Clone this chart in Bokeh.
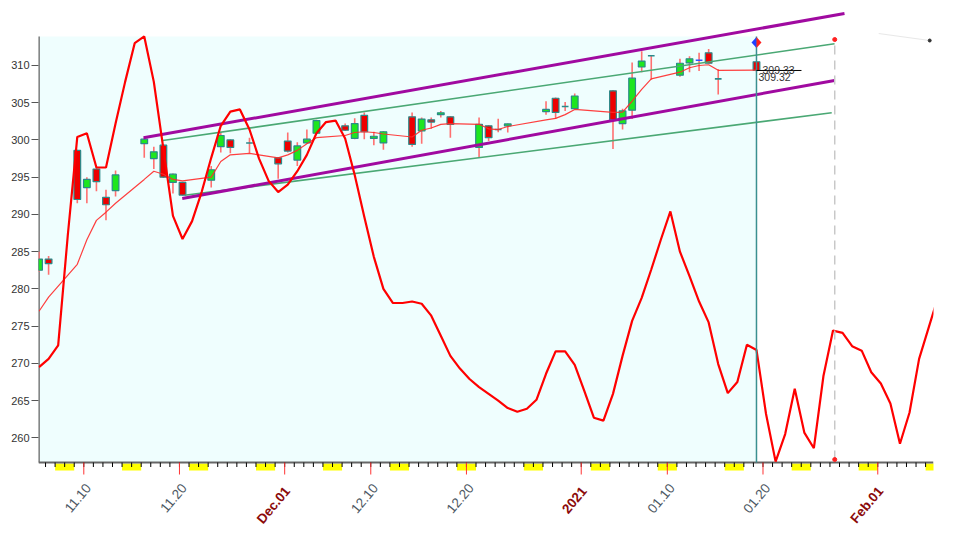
import numpy as np
import pandas as pd
from bokeh.plotting import figure
from bokeh.models import Range1d, FixedTicker, ColumnDataSource
from bokeh.core.properties import value
from bokeh.embed import file_html
from bokeh.resources import INLINE

# ---------------- data ----------------
dates = ["2020-11-05", "2020-11-06", "2020-11-09", "2020-11-10", "2020-11-11", "2020-11-12",
         "2020-11-13", "2020-11-16", "2020-11-17", "2020-11-18", "2020-11-19", "2020-11-20",
         "2020-11-23", "2020-11-24", "2020-11-25", "2020-11-27", "2020-11-30", "2020-12-01",
         "2020-12-02", "2020-12-03", "2020-12-04", "2020-12-07", "2020-12-08", "2020-12-09",
         "2020-12-10", "2020-12-11", "2020-12-14", "2020-12-15", "2020-12-16", "2020-12-17",
         "2020-12-18", "2020-12-21", "2020-12-22", "2020-12-23", "2020-12-24", "2020-12-28",
         "2020-12-29", "2020-12-30", "2020-12-31", "2021-01-04", "2021-01-05", "2021-01-06",
         "2021-01-07", "2021-01-08", "2021-01-11", "2021-01-12", "2021-01-13", "2021-01-14",
         "2021-01-15", "2021-01-19"]
opens = [282.5, 284.0, 298.6, 293.6, 296.1, 292.3, 293.2, 299.5, 297.5, 299.3, 294.3, 294.3,
         294.6, 299.1, 300.0, 299.6, 297.6, 299.85, 297.3, 299.6, 300.9, 301.9, 300.2, 303.3,
         300.2, 299.6, 303.1, 301.2, 302.7, 303.4, 303.1, 299.0, 301.9, 301.4, 301.9, 303.8,
         305.6, 304.5, 304.2, 306.6, 302.2, 304.0, 309.8, 311.3, 308.7, 310.35, 310.7, 311.7,
         308.2, 310.5]
highs = [285.0, 284.4, 298.7, 295.0, 296.4, 293.3, 295.9, 300.2, 299.1, 299.4, 295.5, 294.4,
         296.5, 301.1, 300.1, 300.3, 297.7, 301.0, 299.7, 301.4, 302.7, 302.2, 302.9, 303.7,
         301.1, 301.2, 303.7, 303.0, 303.0, 303.9, 303.2, 303.0, 302.0, 302.85, 302.2, 305.2,
         305.7, 305.1, 306.25, 306.7, 304.2, 310.4, 311.9, 311.4, 310.9, 311.25, 311.7, 312.2,
         309.5, 310.5]
lows = [282.3, 281.9, 291.5, 291.5, 293.1, 289.2, 292.4, 297.6, 296.1, 294.9, 292.8, 292.5,
        293.6, 298.3, 298.2, 298.2, 294.8, 298.3, 296.5, 299.5, 300.8, 301.2, 300.1, 300.1,
        299.3, 298.7, 299.1, 299.5, 301.5, 303.0, 300.3, 297.6, 299.85, 301.05, 301.0, 303.4,
        302.8, 303.9, 304.2, 298.8, 301.4, 302.8, 309.1, 308.1, 308.5, 309.1, 309.25, 310.3,
        306.1, 309.2]
closes = [284.0, 283.4, 292.0, 294.7, 294.4, 291.3, 295.3, 300.1, 298.4, 295.0, 295.4, 292.6,
          296.0, 300.6, 299.0, 299.6, 296.8, 298.5, 299.2, 300.1, 302.6, 301.3, 302.2, 301.1,
          300.5, 301.1, 299.4, 302.8, 302.4, 303.65, 302.1, 302.1, 300.3, 301.4, 302.15, 304.1,
          303.7, 304.5, 305.9, 302.7, 303.9, 308.3, 310.6, 311.3, 310.3, 310.9, 310.7, 310.3,
          308.2, 309.33]
ma_values = [277.0, 278.9, 283.3, 286.6, 289.2, 290.3, 291.5, 294.7, 295.8, 295.4, 294.7, 294.5,
             295.0, 297.1, 298.0, 298.2, 297.6, 298.0, 298.6, 299.5, 300.3, 300.6, 301.0, 301.1,
             301.0, 300.8, 300.4, 301.3, 301.6, 302.1, 302.2, 302.1, 301.5, 301.4, 301.8, 302.7,
             302.9, 303.4, 304.1, 303.7, 303.75, 305.2, 306.8, 308.2, 309.1, 309.7, 310.0, 310.1,
             309.35, 309.37]

# thick indicator line, one value per calendar day from osc_start
osc_start = "2020-11-05"
osc_values = [269.5, 270.6, 272.4, 287.1, 300.4, 300.9, 296.3, 296.3, 302.2, 307.8,
              313.0, 313.9, 307.8, 298.8, 289.8, 286.7, 289.1, 293.0, 297.6, 301.9,
              303.8, 304.1, 301.4, 297.5, 294.5, 293.0, 294.0, 295.8, 298.0, 300.9,
              302.4, 302.6, 300.2, 295.3, 289.7, 284.3, 280.0, 278.1, 278.1, 278.3,
              278.0, 276.4, 273.7, 271.0, 269.3, 267.9, 266.8, 265.9, 265.0, 264.0,
              263.5, 263.9, 265.1, 268.6, 271.6, 271.6, 269.8, 266.3, 262.7, 262.3,
              265.9, 271.0, 275.7, 278.8, 282.6, 286.6, 290.4, 285.0, 281.7, 278.3,
              275.5, 269.9, 266.0, 267.5, 272.5, 271.8, 263.2, 256.8, 260.5, 266.6,
              260.7, 258.6, 268.3, 274.4, 274.1, 272.3, 271.7, 268.8, 267.3, 264.6,
              259.2, 263.4, 270.6, 274.8, 279.0]

# trend channels (start/end date, start/end value)
purple_upper_dates = ["2020-11-16 05:45", "2021-01-28 12:30"]
purple_upper_vals = [300.29, 316.98]
purple_lower_dates = ["2020-11-20 07:00", "2021-01-27 11:30"]
purple_lower_vals = [292.14, 307.99]
green_upper_dates = ["2020-11-18 06:15", "2021-01-27 11:30"]
green_upper_vals = [299.93, 312.91]
green_lower_dates = ["2020-11-20 13:00", "2021-01-27 04:30"]
green_lower_vals = [292.58, 303.65]

projection_date = "2021-01-27 12:00"
last_labels = ["309.33", "309.32"]

y_ticks = [260, 265, 270, 275, 280, 285, 290, 295, 300, 305, 310]
x_tick_dates = ["2020-11-10", "2020-11-20", "2020-12-01", "2020-12-10", "2020-12-20",
                "2021-01-01", "2021-01-10", "2021-01-20", "2021-02-01"]
x_tick_labels = ["11.10", "11.20", "Dec.01", "12.10", "12.20", "2021", "01.10", "01.20", "Feb.01"]
x_tick_is_period = [False, False, True, False, False, True, False, False, True]

# ---------------- geometry / style ----------------
BASE = pd.Timestamp("2020-11-10")
PXD = 9.566          # px per day
PXU = 7.446          # px per price unit
X0 = -4.7355
X1 = X0 + 895 / PXD
Y_TOP = 317.52
Y_BOT = Y_TOP - 520 / PXU
AX = 256.68          # bottom of plotting area
PLOT_TOP = 313.89    # top of plotting area
SHIFT = 0.32         # bar position inside the day
FONT = value("Liberation Sans")


def dx(s):
    return (pd.Timestamp(s) - BASE) / pd.Timedelta(days=1)


p = figure(width=945, height=531, output_backend="svg", toolbar_location=None,
           x_axis_type=None, x_range=Range1d(X0, X1), y_range=Range1d(Y_BOT, Y_TOP),
           min_border_left=38, min_border_right=12, min_border_top=9, min_border_bottom=2)
p.outline_line_color = None
p.background_fill_color = "white"
p.border_fill_color = "white"
p.xgrid.visible = False
p.ygrid.visible = False

ya = p.yaxis[0]
ya.ticker = FixedTicker(ticks=y_ticks)
ya.axis_line_color = None
ya.minor_tick_line_color = None
ya.major_tick_out = 7
ya.major_tick_in = 0
ya.major_tick_line_color = "#555555"
ya.major_tick_line_width = 1
ya.major_label_standoff = 2
ya.major_label_text_font = "Liberation Sans"
ya.major_label_text_font_size = "11px"
ya.major_label_text_color = "#333333"

xc = np.array([dx(d) for d in dates]) + SHIFT
last_x = xc[-1]

# cyan background of history
p.quad(left=[X0], right=[last_x], bottom=[AX], top=[PLOT_TOP], fill_color="#effefe", line_color=None)

# axes lines
p.segment(x0=[X0 + 0.03], y0=[AX], x1=[X0 + 0.03], y1=[PLOT_TOP], line_color="#666666", line_width=2)

# weekend yellow marks
days = np.arange(int(np.floor(X0)), int(np.ceil(X1)) + 1)
sats = [d for d in days if (BASE + pd.Timedelta(days=int(d))).weekday() == 5]
p.quad(left=sats, right=[s + 2 for s in sats], top=[AX - 1 / PXU] * len(sats),
       bottom=[AX - 8 / PXU] * len(sats), fill_color="#ffff00", line_color=None)
p.segment(x0=[X0], y0=[AX], x1=[X1], y1=[AX], line_color="#666666", line_width=2)
mt = [d for d in days if X0 < d < X1]
p.segment(x0=mt, y0=[AX] * len(mt), x1=mt, y1=[AX - 4.5 / PXU] * len(mt), line_color="black", line_width=1)
xt = [dx(d) for d in x_tick_dates]
p.segment(x0=xt, y0=[AX] * len(xt), x1=xt, y1=[AX - 12 / PXU] * len(xt), line_color="#ff3333", line_width=1)

norm = [i for i, f in enumerate(x_tick_is_period) if not f]
per = [i for i, f in enumerate(x_tick_is_period) if f]
p.text(x=[xt[i] for i in norm], y=[AX - 23 / PXU] * len(norm), text=[x_tick_labels[i] for i in norm],
       angle=50, angle_units="deg", text_align="right", text_baseline="middle", x_offset=4.7,
       text_font=FONT, text_font_size="13.5px", text_color="#4e5964")
p.text(x=[xt[i] for i in per], y=[AX - 26 / PXU] * len(per), text=[x_tick_labels[i] for i in per],
       angle=50, angle_units="deg", text_align="right", text_baseline="middle", x_offset=2.8,
       text_font=FONT, text_font_size="13.5px", text_font_style="bold", text_color="#8b0a0a")

# candles
o = np.array(opens); c = np.array(closes); h = np.array(highs); l = np.array(lows)
p.segment(x0=xc, y0=l, x1=xc, y1=h, line_color="#ff7070", line_width=1.6)
body = np.abs(c - o) >= 0.05
col = np.where(c >= o, "#1ee61e", "#ee0000")
src = ColumnDataSource(dict(x=xc[body], top=np.maximum(o, c)[body], bottom=np.minimum(o, c)[body],
                            color=col[body]))
p.vbar(x="x", width=0.7, top="top", bottom="bottom", fill_color="color", line_color="#2a8a8a",
       line_width=1.2, source=src)
doji = ~body
dcol = ["#3050ff" if d == "2021-01-13" else "#2a8a8a" for d, f in zip(dates, doji) if f]
p.segment(x0=xc[doji] - 0.35, y0=o[doji], x1=xc[doji] + 0.35, y1=o[doji], line_color=dcol, line_width=1.6)

# channels
for ds, vs, colr, w in [(green_upper_dates, green_upper_vals, "#4aa874", 1.6),
                        (green_lower_dates, green_lower_vals, "#4aa874", 1.6),
                        (purple_upper_dates, purple_upper_vals, "#a00aa0", 3),
                        (purple_lower_dates, purple_lower_vals, "#a00aa0", 3)]:
    p.line([dx(d) for d in ds], vs, line_color=colr, line_width=w)

# moving average
p.line(xc, ma_values, line_color="#ff2a2a", line_width=1.2, line_alpha=0.9)

# thick indicator line
ox = np.arange(len(osc_values)) + dx(osc_start) + SHIFT
p.line(ox, osc_values, line_color="#ff0000", line_width=2.2)

# last-bar markers
p.segment(x0=[last_x], y0=[AX], x1=[last_x], y1=[PLOT_TOP], line_color="#3a9090", line_width=1.5)
p.segment(x0=[last_x], y0=[closes[-1]], x1=[last_x + 45 / PXD], y1=[closes[-1]], line_color="black", line_width=1)
p.text(x=[last_x], y=[closes[-1]], text=[last_labels[0]], x_offset=6, text_baseline="middle",
       text_font=FONT, text_font_size="10.5px", text_color="#333333")
p.text(x=[last_x], y=[closes[-1] - 7 / PXU], text=[last_labels[1]], x_offset=2, text_baseline="middle",
       text_font=FONT, text_font_size="10.5px", text_color="#333333")
dy_ = PLOT_TOP - 6 / PXU
hw, hh = 5 / PXD, 5.5 / PXU
p.patch([last_x - hw, last_x, last_x], [dy_, dy_ + hh, dy_ - hh], fill_color="#2040ff", line_color=None)
p.patch([last_x + hw, last_x, last_x], [dy_, dy_ + hh, dy_ - hh], fill_color="#ff2020", line_color=None)

# projection date
px_ = dx(projection_date)
p.segment(x0=[px_], y0=[AX + 3 / PXU], x1=[px_], y1=[PLOT_TOP - 3 / PXU], line_color="#c8c8c8",
          line_width=1.5, line_dash="9 6")
p.scatter([px_, px_], [PLOT_TOP - 3 / PXU, AX + 3 / PXU], size=4, color="#ff2020")

p.line([px_ + 44 / PXD, px_ + 95 / PXD], [PLOT_TOP + 3 / PXU, PLOT_TOP - 4 / PXU], line_color="#e8e8e8", line_width=1)
p.scatter([px_ + 95 / PXD], [PLOT_TOP - 4 / PXU], size=3, color="#333333")

open("out.html", "w").write(file_html(p, INLINE))
